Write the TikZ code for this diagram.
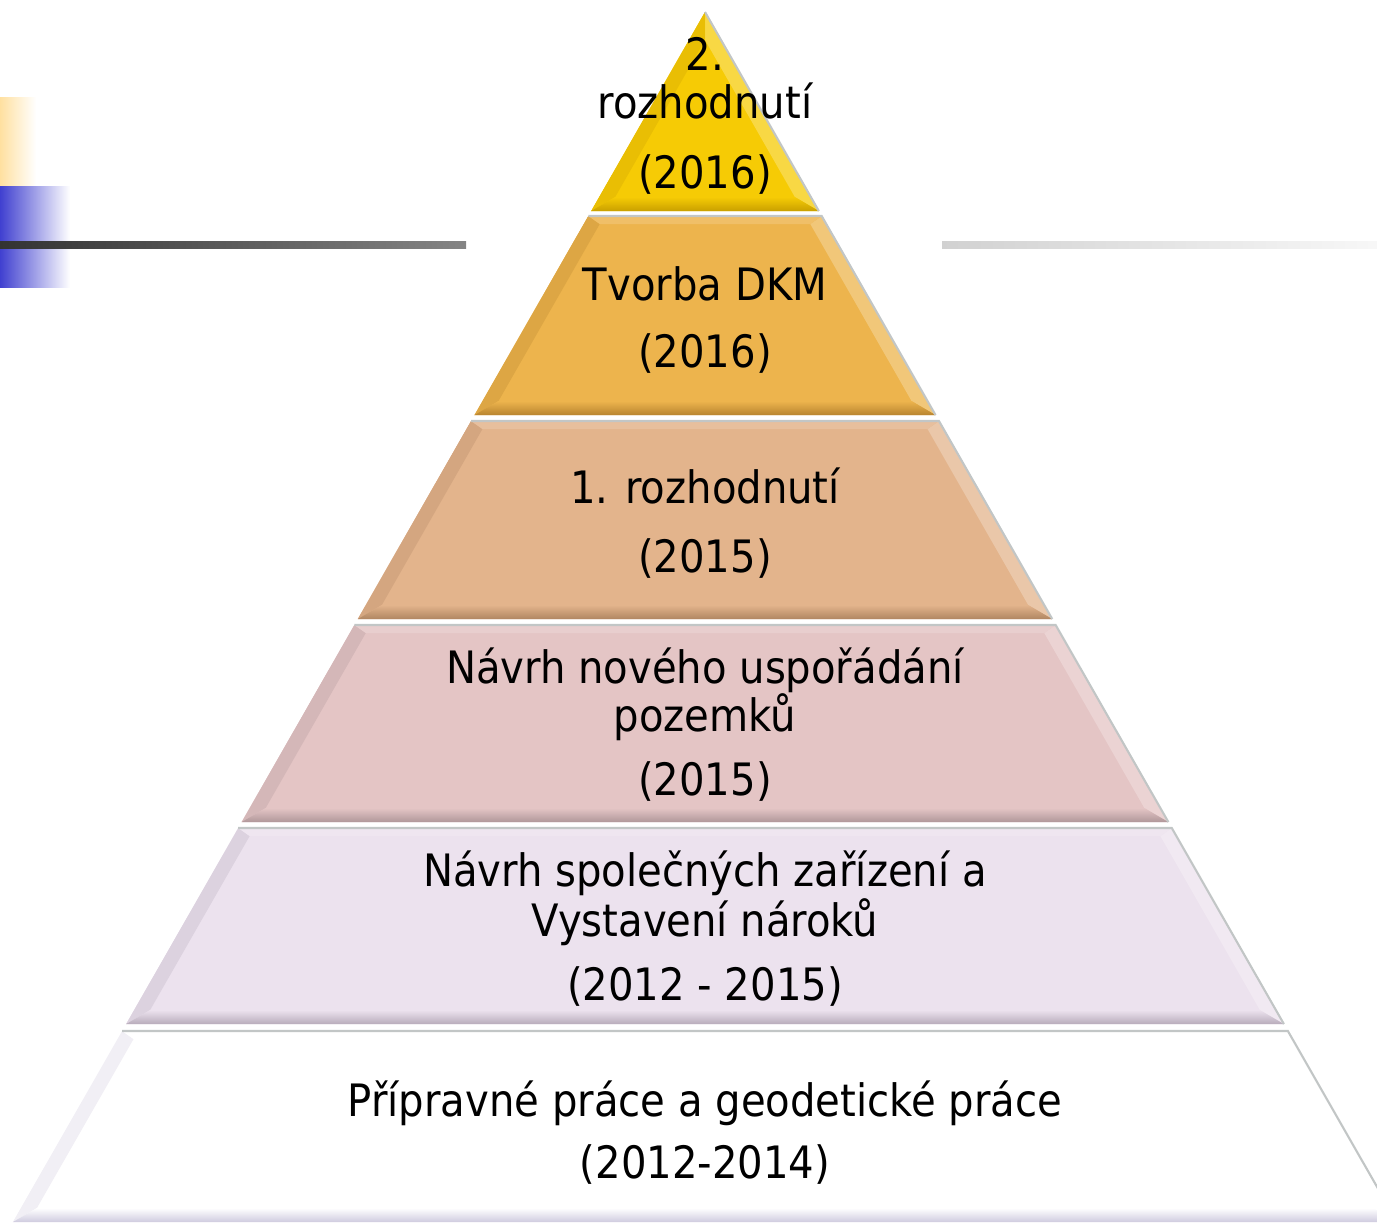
\documentclass[tikz,border=0pt]{standalone}
\usepackage{fontspec}
\setmainfont{DejaVu Sans Condensed}
\usetikzlibrary{positioning}

\definecolor{lay1}{HTML}{F6CB05}
\definecolor{dk1}{HTML}{C9A000}
\definecolor{lay2}{HTML}{EDB44D}
\definecolor{dk2}{HTML}{B98530}
\definecolor{lay3}{HTML}{E3B48C}
\definecolor{dk3}{HTML}{B08662}
\definecolor{lay4}{HTML}{E4C5C5}
\definecolor{dk4}{HTML}{B0979A}
\definecolor{lay5}{HTML}{ECE2EE}
\definecolor{dk5}{HTML}{B8ACBB}
\definecolor{lay6}{HTML}{FFFFFF}
\definecolor{dk6}{HTML}{CFCBDF}
\definecolor{rimgrey}{HTML}{C2C6C6}
\definecolor{decoyellow}{HTML}{FFE0A0}
\definecolor{decoblue}{HTML}{4040D0}

\begin{document}
\begin{tikzpicture}[x=0.1mm, y=-0.1mm,
  txt/.style={anchor=base, inner sep=0pt, font=\fontsize{12.7pt}{13.9pt}\selectfont},
  rim/.style={draw=rimgrey, line width=0.6pt}]
  \useasboundingbox (0,0) rectangle (1377,1225);

  % slide decoration
  \shade[left color=decoyellow, right color=white] (0,97) rectangle (36,186);
  \shade[left color=decoblue, right color=white] (0,186) rectangle (70,287);
  \shade[left color=black!80, right color=black!48] (0,241) rectangle (466,248);
  \shade[left color=black!18, right color=black!3] (942,241) rectangle (1377,248);

  % pyramid layers
  \foreach \top/\bot/\col/\dk/\nm in {12/211/lay1/dk1/a, 216/415/lay2/dk2/b,
      421/619/lay3/dk3/c, 625/822/lay4/dk4/d, 828/1024/lay5/dk5/e, 1031/1222/lay6/dk6/f}{
    \pgfmathsetmacro\wt{0.572*(\top-12)}
    \pgfmathsetmacro\wb{0.572*(\bot-12)}
    \pgfmathsetmacro\iT{max(\top+8,40)}
    \pgfmathsetmacro\iB{\bot-14}
    \pgfmathsetmacro\wiT{max(0.572*(\iT-12)-16,0)}
    \pgfmathsetmacro\wiB{0.572*(\iB-12)-16}
    \coordinate (\nm tl) at (705-\wt,\top);
    \coordinate (\nm tr) at (705+\wt,\top);
    \coordinate (\nm bl) at (705-\wb,\bot);
    \coordinate (\nm br) at (705+\wb,\bot);
    \coordinate (\nm itl) at (705-\wiT,\iT);
    \coordinate (\nm itr) at (705+\wiT,\iT);
    \coordinate (\nm ibl) at (705-\wiB,\iB);
    \coordinate (\nm ibr) at (705+\wiB,\iB);
    \fill[\col] (\nm tl) -- (\nm tr) -- (\nm br) -- (\nm bl) -- cycle;
    \fill[\col!70!\dk] (\nm tl) -- (\nm itl) -- (\nm ibl) -- (\nm bl) -- cycle;
    \fill[\col!75!white] (\nm tr) -- (\nm itr) -- (\nm ibr) -- (\nm br) -- cycle;
    \fill[\col!85!white] (\nm tl) -- (\nm tr) -- (\nm itr) -- (\nm itl) -- cycle;
    \shade[top color=\col, bottom color=\dk] (\nm bl) -- (\nm ibl) -- (\nm ibr) -- (\nm br) -- cycle;
    \draw[rim] (\nm tl) -- (\nm tr) -- (\nm br);
  }

  \node[txt] (a1) at (705,70) {2.};
  \node[txt] (a2) at (705,118) {rozhodnutí};
  \node[txt] (a3) at (705,188) {(2016)};
  \node[txt] (b1) at (705,300) {Tvorba DKM};
  \node[txt] (b2) at (705,367) {(2016)};
  \node[txt] (c1) at (705,503) {1. rozhodnutí};
  \node[txt] (c2) at (705,572) {(2015)};
  \node[txt] (d1) at (705,683) {Návrh nového uspořádání};
  \node[txt] (d2) at (705,731) {pozemků};
  \node[txt] (d3) at (705,795) {(2015)};
  \node[txt] (e1) at (705,886) {Návrh společných zařízení a};
  \node[txt] (e2) at (705,936) {Vystavení nároků};
  \node[txt] (e3) at (705,1000) {(2012 - 2015)};
  \node[txt] (f1) at (705,1116) {Přípravné práce a geodetické práce};
  \node[txt] (f2) at (705,1178) {(2012-2014)};
\end{tikzpicture}
\end{document}
